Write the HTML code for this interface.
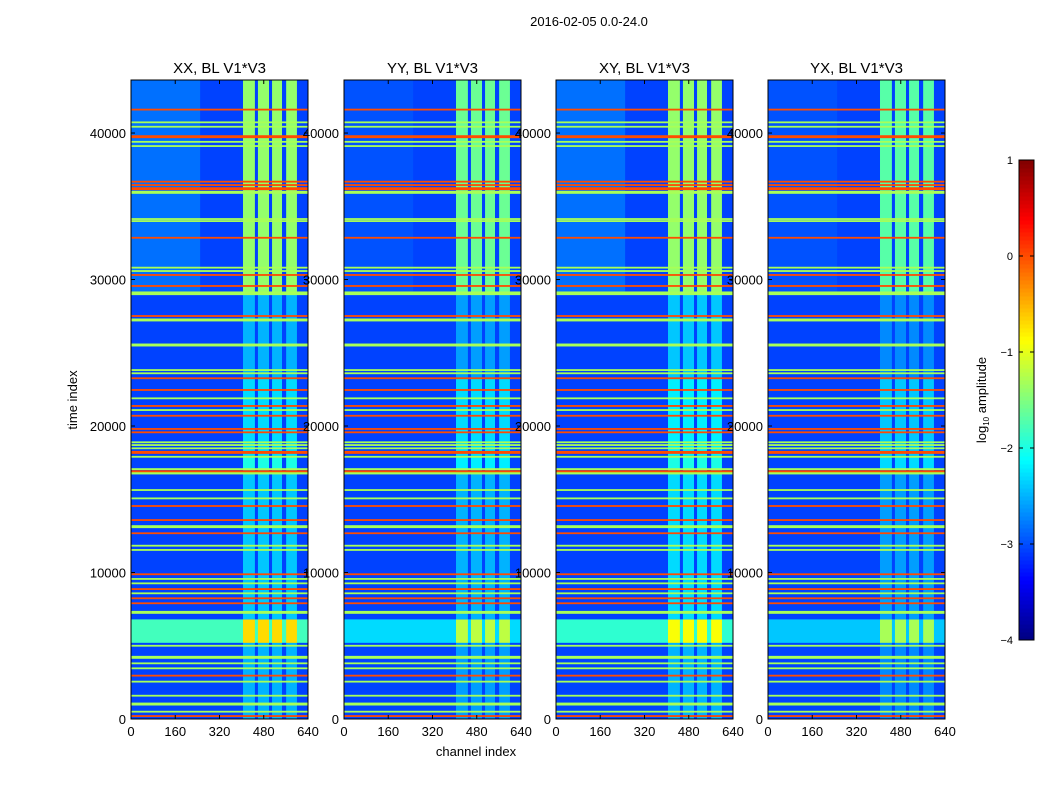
<!DOCTYPE html>
<html><head><meta charset="utf-8"><style>
body{margin:0;background:#fff;}
svg text{font-family:"Liberation Sans",sans-serif;fill:#000;}
</style></head><body>
<svg id="fig" width="1050" height="800" viewBox="0 0 1050 800" xmlns="http://www.w3.org/2000/svg">
<rect width="1050" height="800" fill="#fff"/>
<text x="589" y="26" font-size="13" text-anchor="middle">2016-02-05 0.0-24.0</text>
<text transform="translate(77,400) rotate(-90)" font-size="13" text-anchor="middle">time index</text>
<text x="476" y="756" font-size="13" text-anchor="middle">channel index</text>
<text transform="translate(986,400) rotate(-90)" font-size="13" text-anchor="middle">log<tspan font-size="8" dy="3">10</tspan><tspan dy="-3"> amplitude</tspan></text>
<g id="panels"></g>
<g id="cbar"></g>
</svg>
<script>
// ---- data ----
const panelNames = ["XX, BL V1*V3","YY, BL V1*V3","XY, BL V1*V3","YX, BL V1*V3"];
const xTicks = [0,160,320,480,640];
const yTicks = [0,10000,20000,30000,40000];
const cbTicks = [1,0,-1,-2,-3,-4];
const bgLevel = -3.05;
const channelBands = [[405,448],[459,499],[510,546],[561,600]];
const segStarts = [0,5200,6800,17000,18000,23300,29000];
const segEnds = [5200,6800,17000,18000,23300,29000,43600];
const bandLevelsXX = [-2.5,-0.7,-2.4,-2.0,-2.3,-2.5,-1.4];
const bandLevelsYY = [-2.6,-1.2,-2.5,-2.2,-2.3,-2.6,-1.6];
const bandLevelsXY = [-2.5,-0.9,-2.3,-2.0,-2.2,-2.4,-1.4];
const bandLevelsYX = [-2.7,-1.3,-2.6,-2.3,-2.4,-2.7,-1.7];
const wideLevels = [-1.8,-2.3,-1.9,-2.4];   // 5200-6800 block, all channels
const leftLevels = [-2.6,-2.9,-2.6,-2.9];   // upper-left region 29000-43600, ch 0-250
const lineTimes = [41600,40730,40430,39750,39400,39110,36680,36450,36200,35950,34130,33990,32850,30810,30580,30310,29560,29060,27510,27240,25530,23820,23600,23260,22460,21890,21370,21090,20700,19800,19570,18890,18700,18480,18200,17900,17060,16880,16770,15630,15060,14540,13580,13130,12680,11830,11540,9880,9560,9260,8870,8580,8240,7900,7280,5000,4210,3800,3460,2960,2550,1590,1020,500,200];
const lineLevels = [0,-1.3,-1.3,0,-1.3,-1.3,0,0,0,-1.3,-1.3,-1.3,0,-1.3,-1.3,0,0,-1.3,0,-1.3,-1.3,-1.3,-1.3,0,0,-1.3,0,-1.3,0,0,0,-1.3,-1.3,-1.3,0,-1.3,-1.3,0,-1.3,-1.3,-1.3,0,0,-1.3,0,-1.3,-1.3,0,-1.3,-1.3,0,-1.3,0,0,-1.3,-1.3,-1.3,-1.3,-1.3,0,-1.3,-1.3,-1.3,-1.3,0];
const lineWidths = [60,60,60,200,60,60,60,60,200,200,60,60,60,60,60,60,60,250,60,200,200,60,60,60,60,60,60,60,60,60,60,60,60,60,200,60,60,200,150,60,60,60,60,200,60,60,60,60,60,60,60,60,60,60,200,60,200,60,60,60,60,60,200,60,60];
const bandSets = [bandLevelsXX,bandLevelsYY,bandLevelsXY,bandLevelsYX];

// ---- layout ----
const panelLefts = [131,344,556,768];
const pW = 177, pTop = 80, pBot = 719, tMax = 43620;
const NS = "http://www.w3.org/2000/svg";
function jet(v){
  let t = Math.max(0,Math.min(1,(v+4)/5));
  const r = Math.max(0,Math.min(1,1.5-Math.abs(4*t-3)));
  const g = Math.max(0,Math.min(1,1.5-Math.abs(4*t-2)));
  const b = Math.max(0,Math.min(1,1.5-Math.abs(4*t-1)));
  return `rgb(${Math.round(r*255)},${Math.round(g*255)},${Math.round(b*255)})`;
}
function mk(tag,attrs,parent){const e=document.createElementNS(NS,tag);for(const k in attrs)e.setAttribute(k,attrs[k]);parent.appendChild(e);return e;}
const panelsG = document.getElementById('panels');
const yS = t => pBot - (t/tMax)*(pBot-pTop);

panelLefts.forEach((x0,pi)=>{
  const xS = c => x0 + c/640*pW;
  const g = mk('g',{},panelsG);
  
  
  const bg = mk('rect',{x:x0,y:pTop,width:pW,height:pBot-pTop,fill:jet(bgLevel)},g);
  
  
  const lr = mk('rect',{x:xS(0),y:yS(43620),width:xS(250)-xS(0),height:yS(29000)-yS(43620),fill:jet(leftLevels[pi]),opacity:0.5},g);
  
  
  const wb = mk('rect',{x:x0,y:yS(6800),width:pW,height:yS(5200)-yS(6800),fill:jet(wideLevels[pi])},g);
  
  
  segStarts.forEach((s,si)=>{
    channelBands.forEach(b=>{
      const r = mk('rect',{x:xS(b[0]),y:yS(segEnds[si]),width:xS(b[1])-xS(b[0]),height:yS(s)-yS(segEnds[si]),fill:jet(bandSets[pi][si])},g);
      
      
    });
  });
  lineTimes.forEach((t,li)=>{
    const h = Math.max(1.8,(yS(0)-yS(lineWidths[li])));
    const r = mk('rect',{x:x0,y:yS(t)-h/2,width:pW,height:h,fill:jet(lineLevels[li])},g);
    
    
  });
  mk('rect',{x:x0,y:pTop,width:pW,height:pBot-pTop,fill:'none',stroke:'#000','stroke-width':1},g);
  const tt = mk('text',{x:x0+pW/2,y:73,'font-size':15,'text-anchor':'middle'},g);
  tt.textContent = panelNames[pi];
  
  
  xTicks.forEach(c=>{
    mk('line',{x1:xS(c),x2:xS(c),y1:pBot,y2:pBot-4,stroke:'#000'},g);
    mk('line',{x1:xS(c),x2:xS(c),y1:pTop,y2:pTop+4,stroke:'#000'},g);
    const tx = mk('text',{x:xS(c),y:pBot+17,'font-size':13,'text-anchor':'middle'},g);
    tx.textContent = c;
    
    
  });
});
// y tick labels drawn on top
panelLefts.forEach((x0,pi)=>{
  yTicks.forEach(t=>{
    mk('line',{x1:x0,x2:x0+4,y1:yS(t),y2:yS(t),stroke:'#000'},panelsG);
    mk('line',{x1:x0+pW,x2:x0+pW-4,y1:yS(t),y2:yS(t),stroke:'#000'},panelsG);
    const ty = mk('text',{x:x0-5,y:yS(t)+5,'font-size':13,'text-anchor':'end'},panelsG);
    ty.textContent = t;
    
    
  });
});
// colorbar
const cb = document.getElementById('cbar');


const cTop=160, cBot=640, cx=1019, cw=15;
const cy = v => cBot - (v+4)/5*(cBot-cTop);
for(let i=0;i<120;i++){
  const v0 = -4 + i*5/120, v1 = v0+5/120;
  mk('rect',{x:cx,y:cy(v1),width:cw,height:cy(v0)-cy(v1)+0.5,fill:jet((v0+v1)/2)},cb);
}
mk('rect',{x:cx,y:cTop,width:cw,height:cBot-cTop,fill:'none',stroke:'#000'},cb);
cbTicks.forEach(v=>{
  mk('line',{x1:cx,x2:cx+4,y1:cy(v),y2:cy(v),stroke:'#000'},cb);
  mk('line',{x1:cx+cw,x2:cx+cw-4,y1:cy(v),y2:cy(v),stroke:'#000'},cb);
  const t = mk('text',{x:1013,y:cy(v)+4,'font-size':11,'text-anchor':'end'},cb);
  t.textContent = v<0 ? '\u2212'+(-v) : v;
  
  
});
</script>
</body></html>
